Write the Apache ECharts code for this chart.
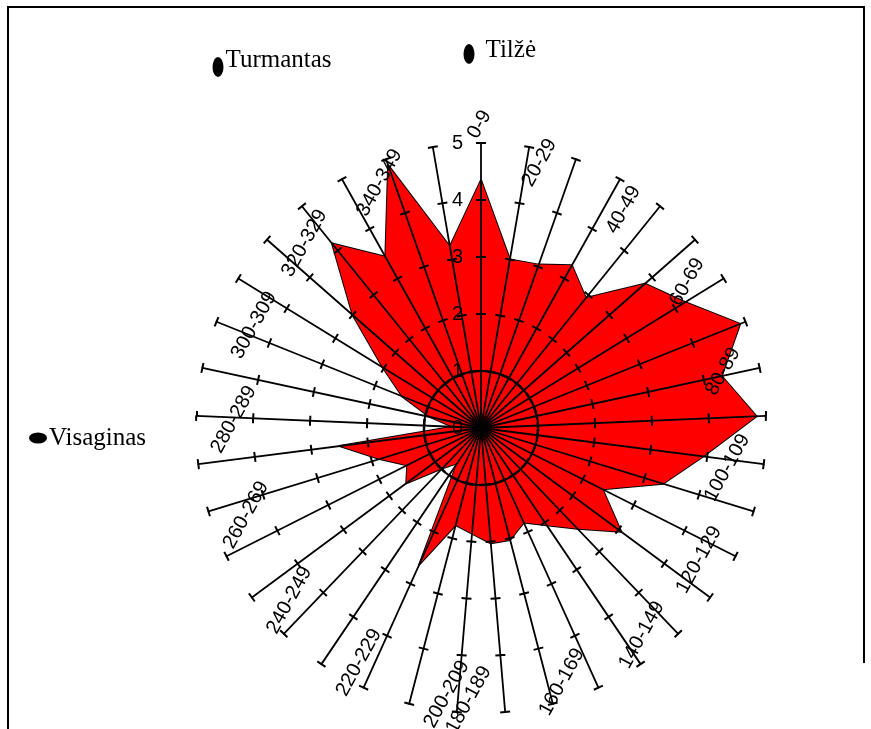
<!DOCTYPE html>
<html>
<head>
<meta charset="utf-8">
<script src="https://cdn.jsdelivr.net/npm/echarts@6/dist/echarts.min.js"></script>
<style>
html, body { margin: 0; padding: 0; background: #fff; }
#main { width: 871px; height: 729px; }
</style>
</head>
<body>
<div id="main"></div>
<script>
// krypčių intervalai (37 stipinai, paskutinis be užrašo)
var sectors = ['0-9', '10-19', '20-29', '30-39', '40-49', '50-59', '60-69', '70-79', '80-89',
    '90-99', '100-109', '110-119', '120-129', '130-139', '140-149', '150-159', '160-169',
    '170-179', '180-189', '190-199', '200-209', '210-219', '220-229', '230-239', '240-249',
    '250-259', '260-269', '270-279', '280-289', '290-299', '300-309', '310-319', '320-329',
    '330-339', '340-349', '350-359', ''];
// reikšmės kiekvienam stipinui
var sectorValues = [4.35, 3.0, 3.04, 3.27, 2.93, 3.83, 4.21, 4.9, 4.32, 4.84, 3.93, 3.34,
    2.39, 3.06, 2.45, 2.06, 1.82, 2.03, 2.03, 1.86, 1.76, 2.63, 0.75, 0.98, 1.63, 1.45,
    1.86, 2.5, 0.5, 0.92, 1.49, 2.02, 3.0, 4.16, 3.44, 4.89, 3.23];
var scaleMax = 5;
// vietovės
var placeNames = ['Turmantas', 'Tilžė', 'Visaginas'];
var placeX = [218, 469, 38];
var placeY = [67, 54, 438];

var chart = echarts.init(document.getElementById('main'));

var cx = 481, cy = 428, rad = 285;
var n = sectors.length;

// radar eina prieš laikrodžio rodyklę, todėl apverčiam tvarką
var order = [0];
for (var i = n - 1; i > 0; i--) order.push(i);

var indicators = order.map(function (k, idx) {
    var ind = { name: sectors[k], min: 0, max: scaleMax };
    if (idx === 0) ind.axisLabel = { show: true };
    return ind;
});
var indicatorsPlain = order.map(function (k) {
    return { name: sectors[k], min: 0, max: scaleMax };
});

var splitColors = [];
for (var s = 0; s <= scaleMax; s++) splitColors.push(s === 1 ? '#000' : 'rgba(0,0,0,0)');

// stipinų užrašai kas antrą
var labelData = [];
for (var k = 0; k < n; k += 2) {
    if (!sectors[k]) continue;
    var th = k * 2 * Math.PI / n;
    var sn = Math.sin(th), cs = Math.cos(th);
    var gx = Math.abs(sn) < 0.01 ? -1 : (sn > 0 ? -36 : 38);
    var gy = Math.abs(sn) < 0.01 ? -18 : 4 - 16 * Math.pow(Math.max(0, -cs), 6);
    labelData.push({
        name: sectors[k],
        value: [scaleMax, k],
        label: { position: [gx, gy] }
    });
}

var placeData = placeNames.map(function (nm, i) {
    return {
        name: nm,
        value: [placeX[i], placeY[i]],
        symbolSize: i === 2 ? [18, 11] : [11, 20],
        label: { offset: i === 1 ? [9, -4] : [0, i === 2 ? 0 : -7] }
    };
});

var option = {
    animation: false,
    backgroundColor: '#fff',
    grid: { left: 0, right: 0, top: 0, bottom: 0 },
    xAxis: { type: 'value', min: 0, max: 871, show: false },
    yAxis: { type: 'value', min: 0, max: 729, inverse: true, show: false },
    polar: { center: [cx, cy], radius: rad },
    angleAxis: {
        type: 'category', data: sectors, startAngle: 90, clockwise: true,
        boundaryGap: false, show: false
    },
    radiusAxis: { min: 0, max: scaleMax, show: false },
    radar: [{
        center: [cx, cy],
        radius: rad,
        startAngle: 90,
        splitNumber: scaleMax,
        shape: 'circle',
        z: 5,
        indicator: indicators,
        axisName: { show: false },
        axisLine: { show: true, lineStyle: { color: '#000', width: 1.8 } },
        axisTick: { show: true, length: 5, lineStyle: { color: '#000', width: 2 } },
        axisLabel: {
            show: false, color: '#000', fontSize: 20,
            fontFamily: 'Liberation Sans', margin: 18
        },
        splitLine: {
            show: true,
            lineStyle: { color: splitColors, width: 2.5, type: [12, 4] }
        },
        splitArea: { show: false }
    }, {
        // tikai kitoje stipino pusėje
        center: [cx, cy],
        radius: rad,
        startAngle: 90,
        splitNumber: scaleMax,
        shape: 'circle',
        z: 5,
        indicator: indicatorsPlain,
        axisName: { show: false },
        axisLine: { show: false },
        axisTick: { show: true, length: -5, lineStyle: { color: '#000', width: 2 } },
        axisLabel: { show: false },
        splitLine: { show: false },
        splitArea: { show: false }
    }],
    graphic: [{
        type: 'polyline',
        shape: { points: [[864, 663], [864, 7], [8, 7], [8, 729]] },
        style: { stroke: '#000', lineWidth: 2, fill: 'none' },
        z: 20
    }],
    series: [{
        type: 'radar',
        radarIndex: 0,
        z: 2,
        symbol: 'none',
        lineStyle: { color: '#000', width: 2 },
        areaStyle: { color: '#ff0000', opacity: 1 },
        data: [{ value: order.map(function (k) { return sectorValues[k]; }) }]
    }, {
        type: 'scatter',
        coordinateSystem: 'polar',
        z: 10,
        symbolSize: 1,
        itemStyle: { color: 'rgba(0,0,0,0)', opacity: 1 },
        label: {
            show: true,
            formatter: '{b}',
            rotate: 61,
            align: 'center',
            verticalAlign: 'middle',
            color: '#000',
            opacity: 1,
            fontSize: 20,
            fontFamily: 'Liberation Sans'
        },
        data: labelData
    }, {
        type: 'scatter',
        z: 10,
        symbol: 'circle',
        itemStyle: { color: '#000', opacity: 1 },
        label: {
            show: true,
            position: 'right',
            distance: 2,
            formatter: '{b}',
            color: '#000',
            opacity: 1,
            fontSize: 25,
            fontFamily: 'Liberation Serif'
        },
        data: placeData
    }]
};

chart.setOption(option);
</script>
</body>
</html>
